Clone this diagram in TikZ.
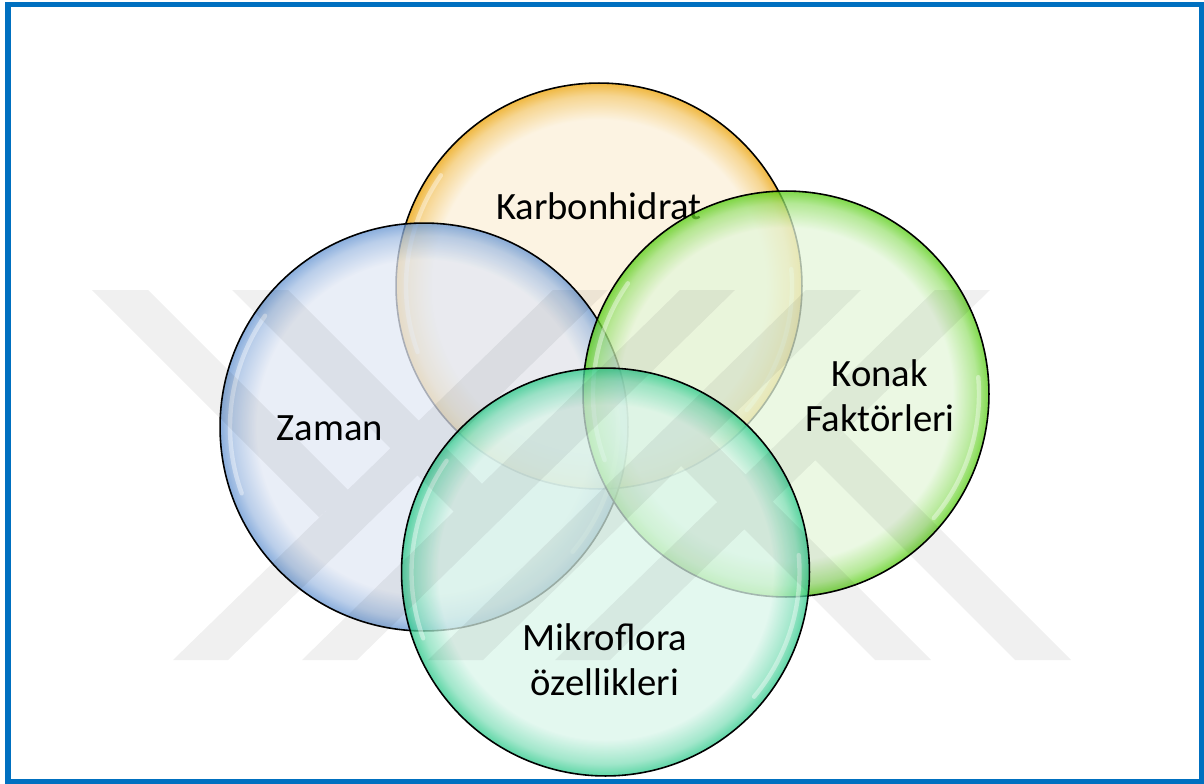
\documentclass[tikz,border=0pt]{standalone}
\usepackage{fontspec}
\setmainfont{Carlito}
\usetikzlibrary{positioning}
\definecolor{framblue}{HTML}{0070C0}
\definecolor{orfill}{HTML}{FBEFD8}
\definecolor{orrim}{HTML}{EBA000}
\definecolor{blfill}{HTML}{E2E8F4}
\definecolor{blrim}{HTML}{6393D1}
\definecolor{grfill}{HTML}{E4F6DA}
\definecolor{grrim}{HTML}{53CC0D}
\definecolor{tefill}{HTML}{DAF5EA}
\definecolor{terim}{HTML}{28C888}
\pgfdeclareradialshading{orball}{\pgfpointorigin}{color(0bp)=(orfill); color(20.5bp)=(orfill); color(23.5bp)=(orrim!50!orfill); color(25bp)=(orrim); color(50bp)=(orrim)}
\pgfdeclareradialshading{blball}{\pgfpointorigin}{color(0bp)=(blfill); color(20.5bp)=(blfill); color(23.5bp)=(blrim!50!blfill); color(25bp)=(blrim); color(50bp)=(blrim)}
\pgfdeclareradialshading{grball}{\pgfpointorigin}{color(0bp)=(grfill); color(20.5bp)=(grfill); color(23.5bp)=(grrim!50!grfill); color(25bp)=(grrim); color(50bp)=(grrim)}
\pgfdeclareradialshading{teball}{\pgfpointorigin}{color(0bp)=(tefill); color(20.5bp)=(tefill); color(23.5bp)=(terim!50!tefill); color(25bp)=(terim); color(50bp)=(terim)}
% white glint near the rim, #1 = circle node, #2 = radius in px
\newcommand\glint[2]{%
  \draw[white, line width=2.5pt, opacity=0.4, line cap=round]
    (#1.center) ++(-145:#2-10) arc[start angle=-145, end angle=-200, radius=#2-10];
  \draw[white, line width=2.5pt, opacity=0.4, line cap=round]
    (#1.center) ++(40:#2-10) arc[start angle=40, end angle=-5, radius=#2-10];}

\begin{document}
\begin{tikzpicture}[x=0.02cm, y=-0.02cm,
    bubble/.style={circle, draw=black, line width=0.9pt, fill opacity=0.75, inner sep=0pt},
    lbl/.style={font=\fontsize{22}{25.5}\selectfont, align=center, inner sep=0pt, text=black}]
  \useasboundingbox (0,0) rectangle (1204,784);

  \node[bubble, shading=orball, minimum size=8.12cm] (karb) at (599,286) {};
  \glint{karb}{203}
  \node[lbl] (karbtxt) at (599,206) {Karbonhidrat};

  \node[bubble, shading=blball, minimum size=8.16cm] (zaman) at (424,427) {};
  \glint{zaman}{204}
  \node[lbl] (zamantxt) at (330,428) {Zaman};

  \node[bubble, shading=grball, minimum size=8.12cm] (konak) at (786,394) {};
  \glint{konak}{203}
  \node[lbl] (konaktxt) at (880,396) {Konak\\Faktörleri};

  \node[bubble, shading=teball, minimum size=8.16cm] (mikro) at (605.5,572) {};
  \glint{mikro}{204}
  \node[lbl] (mikrotxt) at (605,660) {Mikroflora\\özellikleri};

  % faint watermark bands (left group, then the same turned half round)
  \fill[black, fill opacity=0.06]
    (553,290) -- (608,290) -- (228,660) -- (173,660) -- cycle
    (680,290) -- (735,290) -- (357,660) -- (302,660) -- cycle
    (92,290) -- (148,290) -- (348,490) -- (319,517) -- cycle
    (232,290) -- (288,290) -- (482,484) -- (454,512) -- cycle
    (610,660) -- (555,660) -- (935,290) -- (990,290) -- cycle
    (483,660) -- (428,660) -- (806,290) -- (861,290) -- cycle
    (1071,660) -- (1015,660) -- (815,460) -- (844,433) -- cycle
    (931,660) -- (875,660) -- (681,466) -- (709,438) -- cycle;

  \draw[framblue, line width=3.1pt] (8,4.5) rectangle (1201.5,781.5);
\end{tikzpicture}
\end{document}
